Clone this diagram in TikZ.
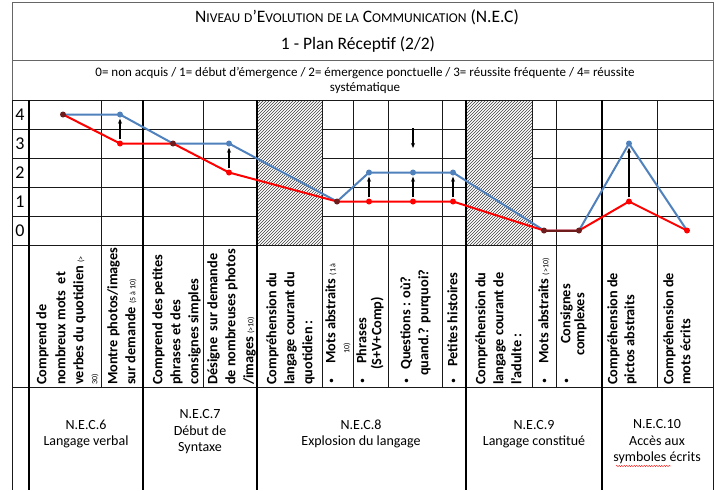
\documentclass[tikz,border=0pt]{standalone}
\usepackage{fontspec}
\setmainfont{Carlito}
\usetikzlibrary{patterns,arrows.meta,decorations.pathmorphing}
\definecolor{cblue}{HTML}{4F81BD}
\definecolor{cred}{HTML}{FF0000}
\definecolor{cdark}{HTML}{6E1C1C}
\newcommand\smcp[1]{{\fontsize{13.5}{14}\selectfont #1}}
\newcommand\tinyt[1]{{\mdseries\fontsize{8}{9}\selectfont #1}}
\begin{document}
\begin{tikzpicture}[x=1pt,y=-1pt,
  hdr/.style={line width=0.9pt, black!60},
  gridl/.style={line width=0.9pt, black!90},
  thickl/.style={line width=2.2pt, black},
  dot/.style={circle, inner sep=0pt, minimum size=6pt},
  bline/.style={cblue, line width=2pt, line join=round},
  rline/.style={cred, line width=2pt, line join=round},
  dline/.style={cdark, line width=2pt},
  arr/.style={-{Stealth[length=5pt,width=4pt]}, line width=1.1pt, shorten <=1pt, shorten >=1pt},
  rot/.style={rotate=90, anchor=west, inner sep=0pt, font=\bfseries\fontsize{14.3}{16}\selectfont, text height=9pt, text depth=2.5pt},
  bul/.style={rotate=90, anchor=center, inner sep=0pt, font=\fontsize{10}{10}\selectfont},
  ylab/.style={font=\fontsize{18}{20}\selectfont, inner sep=0pt},
  bottomlab/.style={align=center, font=\fontsize{14}{16.5}\selectfont, inner sep=0pt}
]
\useasboundingbox (0,0) rectangle (714,490);
\fill[white] (0,0) rectangle (714,490);
% hatched cells
\fill[pattern=north east lines, pattern color=black!75] (257,100) rectangle (322,245);
\fill[pattern=north east lines, pattern color=black!75] (466,100) rectangle (532,245);
% header
\draw[hdr] (12,100) -- (12,2) -- (713,2) -- (713,100);
\draw[hdr] (12,60) -- (713,60);
\node[inner sep=0pt, font=\fontsize{17.5}{20}\selectfont] (title) at (357,17)
  {N\smcp{IVEAU} \smcp{D}’E\smcp{VOLUTION} \smcp{DE LA} C\smcp{OMMUNICATION} (N.E.C)};
\node[inner sep=0pt, font=\fontsize{17.5}{20}\selectfont] (plan) at (358,45) {1 - Plan Réceptif (2/2)};
\node[inner sep=0pt, align=center, font=\fontsize{13}{15}\selectfont] (legend) at (365,80.5)
  {0= non acquis / 1= début d'émergence / 2= émergence ponctuelle / 3= réussite fréquente / 4= réussite\\systématique};
% grid
\draw[gridl] (12,100) -- (713,100);
\foreach \y in {129,158,187,216} {
  \draw[gridl] (12,\y) -- (257,\y);
  \draw[gridl] (322,\y) -- (466,\y);
  \draw[gridl] (532,\y) -- (713,\y);
}
\draw[gridl] (12,245) -- (713,245);
\draw[gridl] (12,387) -- (713,387);
\foreach \x in {101,203,322,353,388,442,532,556,657} \draw[gridl] (\x,100) -- (\x,387);
\draw[gridl] (12,100) -- (12,490);
\draw[gridl] (713,100) -- (713,490);
\foreach \x in {29,143,257,466,602} \draw[thickl] (\x,100) -- (\x,490);
% y labels
\node[ylab] (y4) at (20,114.5) {4};
\node[ylab] (y3) at (20,143.5) {3};
\node[ylab] (y2) at (20,172.5) {2};
\node[ylab] (y1) at (20,201.5) {1};
\node[ylab] (y0) at (20,230.5) {0};
% data coordinates
\coordinate (b1) at (63,114.5);  \coordinate (r1) at (63,114.5);
\coordinate (b2) at (120,114.5); \coordinate (r2) at (120,143.5);
\coordinate (b3) at (173,143.5); \coordinate (r3) at (173,143.5);
\coordinate (b4) at (229,143.5); \coordinate (r4) at (229,172.5);
\coordinate (b5) at (337,201.5); \coordinate (r5) at (337,201.5);
\coordinate (b6) at (369,172.5); \coordinate (r6) at (369,201.5);
\coordinate (b7) at (413,172.5); \coordinate (r7) at (413,201.5);
\coordinate (b8) at (453,172.5); \coordinate (r8) at (453,201.5);
\coordinate (b9) at (544,230.5); \coordinate (r9) at (544,230.5);
\coordinate (b10) at (579,230.5); \coordinate (r10) at (579,230.5);
\coordinate (b11) at (629,143.5); \coordinate (r11) at (629,201.5);
\coordinate (b12) at (687,230.5); \coordinate (r12) at (687,230.5);
\draw[bline] (b1) -- (b2) -- (b3) -- (b4) -- (b5) -- (b6) -- (b7) -- (b8) -- (b9) -- (b10) -- (b11) -- (b12);
\draw[rline] (r1) -- (r2) -- (r3) -- (r4) -- (r5) -- (r6) -- (r7) -- (r8) -- (r9) -- (r10) -- (r11) -- (r12);
\draw[dline] (r9) -- (r10);
% dots
\foreach \i in {1,3,5,9,10} \node[dot, fill=cdark] (S\i) at (r\i) {};
\foreach \i in {2,4,6,7,8,11} \node[dot, fill=cblue] (B\i) at (b\i) {};
\foreach \i in {2,4,6,7,8,11,12} \node[dot, fill=cred] (R\i) at (r\i) {};
% arrows
\foreach \i in {2,4,6,7,8,11} \draw[arr] (R\i) -- (B\i);
\coordinate (q1) at (413,128);
\coordinate (q2) at (413,148);
\draw[arr, shorten <=0pt, shorten >=0pt] (q1) -- (q2);
% rotated column texts
\node[rot] (c1a) at (43,385) {Comprend de};
\node[rot] (c1b) at (62,385) {nombreux mots\ \ et};
\node[rot] (c1c) at (80,385) {verbes du quotidien \tinyt{(>}};
\node[rot] (c1d) at (94,385) {\tinyt{30)}};
\node[rot] (c2a) at (114,385) {Montre photos/images};
\node[rot] (c2b) at (132,385) {sur demande \tinyt{(5 à 10)}};
\node[rot] (c3a) at (159,385) {Comprend des petites};
\node[rot] (c3b) at (177,385) {phrases et des};
\node[rot] (c3c) at (195,385) {consignes simples};
\node[rot] (c4a) at (214,385) {Désigne\ \ sur demande};
\node[rot] (c4b) at (232,385) {de nombreuses photos};
\node[rot] (c4c) at (250,385) {/images \tinyt{(>10)}};
\node[rot] (c5a) at (273,385) {Compréhension du};
\node[rot] (c5b) at (291,385) {langage courant du};
\node[rot] (c5c) at (309,385) {quotidien :};
\node[bul] (c6x) at (332,381) {•};
\node[rot] (c6a) at (332,364) {Mots abstraits \tinyt{(1 à}};
\node[rot] (c6b) at (346,354) {\tinyt{10)}};
\node[bul] (c7x) at (363,381) {•};
\node[rot] (c7a) at (363,364) {Phrases};
\node[rot] (c7b) at (378,370) {(S+V+Comp)};
\node[bul] (c8x) at (407,381) {•};
\node[rot] (c8a) at (407,370) {Questions : où?};
\node[rot] (c8b) at (425,376) {quand.? purquoi?};
\node[bul] (c9x) at (454,381) {•};
\node[rot] (c9a) at (454,367) {Petites histoires};
\node[rot] (c10a) at (482,385) {Compréhension du};
\node[rot] (c10b) at (500,385) {langage courant de};
\node[rot] (c10c) at (518,385) {l'adulte :};
\node[bul] (c11x) at (545,381) {•};
\node[rot] (c11a) at (545,364) {Mots abstraits \tinyt{(>10)}};
\node[bul] (c12x) at (567,381) {•};
\node[rot] (c12a) at (567,344) {Consignes};
\node[rot] (c12b) at (581,356) {complexes};
\node[rot] (c13a) at (614,385) {Compréhension de};
\node[rot] (c13b) at (631,385) {pictos abstraits};
\node[rot] (c14a) at (670,385) {Compréhension de};
\node[rot] (c14b) at (687,385) {mots écrits};
% bottom labels
\node[bottomlab] (n6) at (86,434) {N.E.C.6\\Langage verbal};
\node[bottomlab] (n7) at (200,432) {N.E.C.7\\Début de\\Syntaxe};
\node[bottomlab] (n8) at (361,434) {N.E.C.8\\Explosion du langage};
\node[bottomlab] (n9) at (534,434) {N.E.C.9\\Langage constitué};
\node[bottomlab] (n10) at (657,442) {N.E.C.10\\Accès aux\\symboles écrits};
\draw[cred, line width=0.4pt, decorate, decoration={snake, amplitude=0.6pt, segment length=2.5pt}] (616,466) -- (671,466);
\end{tikzpicture}
\end{document}
